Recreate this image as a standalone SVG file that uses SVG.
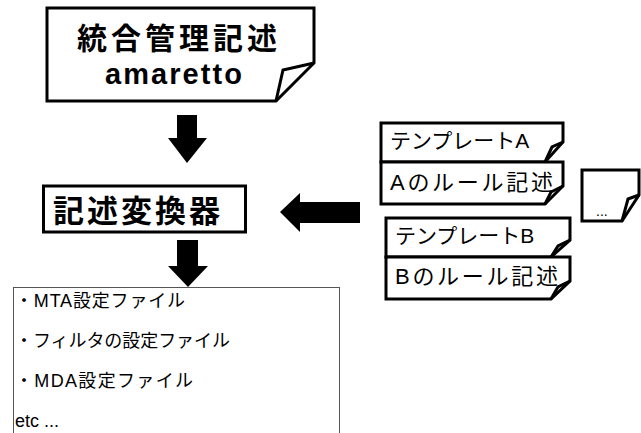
<svg xmlns="http://www.w3.org/2000/svg" width="641" height="433" viewBox="0 0 641 433">
<style>
.box{fill:#fff;stroke:#000;stroke-width:3;stroke-linejoin:miter}
.fold{fill:none;stroke:#000;stroke-width:3;stroke-linejoin:miter}
.jp{font-family:"Noto Sans CJK JP","Liberation Sans",sans-serif;fill:#000}
.lat{font-family:"Liberation Sans","Noto Sans CJK JP",sans-serif;fill:#000}
.arrow{fill:#000}
</style>
<rect width="641" height="433" fill="#fff"/>
<g id="connectors">
<polygon class="arrow" points="177,115 197,115 197,138 207,138 187,163 168,138 177,138"/>
<polygon class="arrow" points="177,240 198,240 198,266 208,266 188,287 168,266 177,266"/>
<polygon class="arrow" points="360,202 300,202 300,193 280,212 300,232 300,223 360,223"/>
</g>
<g id="amaretto">
<path class="box" d="M47,8 H314 V63 L276,101 H47 Z"/>
<path class="fold" d="M314,63 L283,70 L276,101"/>
<text class="jp" x="77" y="49" font-size="30" font-weight="bold" textLength="200" lengthAdjust="spacing">統合管理記述</text>
<text class="lat" x="105" y="84" font-size="29" font-weight="bold" textLength="137" lengthAdjust="spacing">amaretto</text>
</g>
<g id="converter">
<rect class="box" x="43.5" y="186" width="202" height="46"/>
<text class="jp" x="53" y="222" font-size="31" font-weight="bold" textLength="167" lengthAdjust="spacing">記述変換器</text>
</g>
<g id="output">
<rect x="13.5" y="287.5" width="326" height="160" fill="#fff" stroke="#555" stroke-width="1"/>
<text class="lat" x="15" y="307" font-size="18" textLength="170" lengthAdjust="spacing">・MTA設定ファイル</text>
<text class="lat" x="15" y="347" font-size="18" textLength="215" lengthAdjust="spacing">・フィルタの設定ファイル</text>
<text class="lat" x="15" y="387" font-size="18" textLength="178" lengthAdjust="spacing">・MDA設定ファイル</text>
<text class="lat" x="15" y="427" font-size="18">etc ...</text>
</g>
<g id="templateA">
<path class="box" d="M381,123 H563 V142 L545,162 H381 Z"/>
<path class="fold" d="M563,142 L552,147 L545,162"/>
<text class="lat" x="390" y="148" font-size="21">テンプレートA</text>
</g>
<g id="ruleA">
<path class="box" d="M381,162 H563 V186 L545,204 H381 Z"/>
<path class="fold" d="M563,186 L551,192 L545,204"/>
<text class="lat" x="390" y="190" font-size="22" textLength="163" lengthAdjust="spacing">Aのルール記述</text>
</g>
<g id="templateB">
<path class="box" d="M386,218 H570 V240 L551,257 H386 Z"/>
<path class="fold" d="M570,240 L558,246 L551,257"/>
<text class="lat" x="395" y="243" font-size="21">テンプレートB</text>
</g>
<g id="ruleB">
<path class="box" d="M386,257 H570 V281 L551,299 H386 Z"/>
<path class="fold" d="M570,281 L558,287 L551,299"/>
<text class="lat" x="395" y="284" font-size="22" textLength="163" lengthAdjust="spacing">Bのルール記述</text>
</g>
<g id="others">
<path class="box" d="M582,170 H639 V195 L622,221 H582 Z"/>
<path class="fold" d="M639,195 L628,199 L622,221"/>
<text class="lat" x="596" y="216" font-size="14" fill="#444">...</text>
</g>
</svg>
